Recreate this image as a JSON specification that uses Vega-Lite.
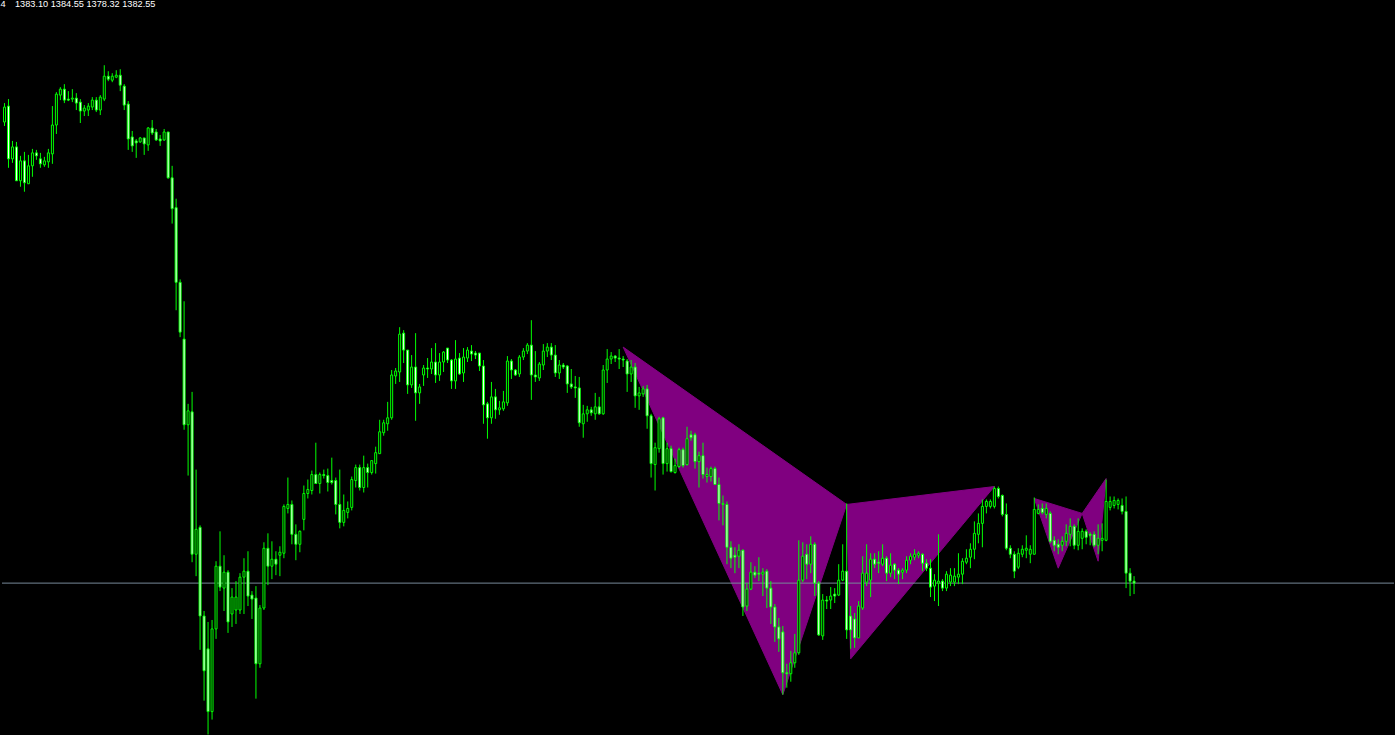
{
"$schema":"https://vega.github.io/schema/vega-lite/v6.json",
"width":1395,"height":735,"padding":0,
"autosize":{"type":"fit","contains":"padding"},
"background":"black",
"config":{"view":{"stroke":null},"scale":{"continuousPadding":0}},
"datasets":{
"candles":[
{"t":1,"o":1846,"h":1865,"l":1842,"c":1861},{"t":2,"o":1862,"h":1869,"l":1800,"c":1809},{"t":3,"o":1809,"h":1827,"l":1805,"c":1821},{"t":4,"o":1821,"h":1826,"l":1787,"c":1787},{"t":5,"o":1787,"h":1812,"l":1781,"c":1807},{"t":6,"o":1807,"h":1816,"l":1776,"c":1785},{"t":7,"o":1784,"h":1813,"l":1784,"c":1802},{"t":8,"o":1802,"h":1819,"l":1791,"c":1815},{"t":9,"o":1815,"h":1818,"l":1808,"c":1812},{"t":10,"o":1809,"h":1815,"l":1800,"c":1804},
{"t":11,"o":1803,"h":1811,"l":1801,"c":1807},{"t":12,"o":1806,"h":1819,"l":1800,"c":1815},{"t":13,"o":1814,"h":1862,"l":1804,"c":1843},{"t":14,"o":1843,"h":1876,"l":1834,"c":1874},{"t":15,"o":1873,"h":1881,"l":1868,"c":1879},{"t":16,"o":1879,"h":1884,"l":1865,"c":1868},{"t":17,"o":1869,"h":1877,"l":1867,"c":1868},{"t":18,"o":1869,"h":1879,"l":1866,"c":1870},{"t":19,"o":1870,"h":1875,"l":1858,"c":1865},{"t":20,"o":1866,"h":1869,"l":1845,"c":1857},
{"t":21,"o":1857,"h":1863,"l":1852,"c":1860},{"t":22,"o":1858,"h":1865,"l":1852,"c":1862},{"t":23,"o":1861,"h":1871,"l":1858,"c":1868},{"t":24,"o":1868,"h":1871,"l":1856,"c":1858},{"t":25,"o":1858,"h":1873,"l":1853,"c":1871},{"t":26,"o":1869,"h":1903,"l":1867,"c":1892},{"t":27,"o":1892,"h":1897,"l":1887,"c":1889},{"t":28,"o":1888,"h":1895,"l":1886,"c":1892},{"t":29,"o":1891,"h":1898,"l":1890,"c":1893},{"t":30,"o":1893,"h":1899,"l":1877,"c":1883},
{"t":31,"o":1882,"h":1884,"l":1858,"c":1863},{"t":32,"o":1864,"h":1867,"l":1818,"c":1829},{"t":33,"o":1831,"h":1837,"l":1816,"c":1822},{"t":34,"o":1827,"h":1829,"l":1810,"c":1825},{"t":35,"o":1826,"h":1831,"l":1825,"c":1830},{"t":36,"o":1830,"h":1830,"l":1813,"c":1824},{"t":37,"o":1823,"h":1841,"l":1817,"c":1840},{"t":38,"o":1840,"h":1848,"l":1833,"c":1835},{"t":39,"o":1836,"h":1839,"l":1827,"c":1828},{"t":40,"o":1829,"h":1833,"l":1822,"c":1827},
{"t":41,"o":1828,"h":1839,"l":1827,"c":1836},{"t":42,"o":1836,"h":1836,"l":1789,"c":1790},{"t":43,"o":1790,"h":1802,"l":1744,"c":1759},{"t":44,"o":1760,"h":1769,"l":1657,"c":1685},{"t":45,"o":1685,"h":1688,"l":1630,"c":1635},{"t":46,"o":1628,"h":1666,"l":1537,"c":1542},{"t":47,"o":1542,"h":1563,"l":1491,"c":1556},{"t":48,"o":1555,"h":1575,"l":1404,"c":1412},{"t":49,"o":1412,"h":1497,"l":1390,"c":1437},{"t":50,"o":1439,"h":1441,"l":1316,"c":1350},
{"t":51,"o":1350,"h":1355,"l":1265,"c":1295},{"t":52,"o":1317,"h":1344,"l":1231,"c":1254},{"t":53,"o":1254,"h":1346,"l":1246,"c":1337},{"t":54,"o":1337,"h":1405,"l":1327,"c":1400},{"t":55,"o":1400,"h":1435,"l":1375,"c":1379},{"t":56,"o":1378,"h":1411,"l":1355,"c":1394},{"t":57,"o":1394,"h":1396,"l":1333,"c":1344},{"t":58,"o":1352,"h":1378,"l":1339,"c":1369},{"t":59,"o":1356,"h":1385,"l":1342,"c":1369},{"t":60,"o":1356,"h":1393,"l":1352,"c":1389},
{"t":61,"o":1389,"h":1408,"l":1352,"c":1395},{"t":62,"o":1395,"h":1415,"l":1360,"c":1370},{"t":63,"o":1371,"h":1375,"l":1347,"c":1367},{"t":64,"o":1368,"h":1380,"l":1267,"c":1302},{"t":65,"o":1302,"h":1361,"l":1298,"c":1358},{"t":66,"o":1358,"h":1424,"l":1356,"c":1418},{"t":67,"o":1418,"h":1433,"l":1381,"c":1400},{"t":68,"o":1400,"h":1425,"l":1387,"c":1407},{"t":69,"o":1407,"h":1415,"l":1391,"c":1402},{"t":70,"o":1411,"h":1420,"l":1390,"c":1414},
{"t":71,"o":1413,"h":1462,"l":1408,"c":1460},{"t":72,"o":1458,"h":1489,"l":1453,"c":1462},{"t":73,"o":1462,"h":1466,"l":1422,"c":1432},{"t":74,"o":1432,"h":1442,"l":1406,"c":1422},{"t":75,"o":1422,"h":1436,"l":1414,"c":1435},{"t":76,"o":1447,"h":1481,"l":1436,"c":1473},{"t":77,"o":1473,"h":1487,"l":1468,"c":1477},{"t":78,"o":1476,"h":1496,"l":1472,"c":1492},{"t":79,"o":1492,"h":1524,"l":1483,"c":1483},{"t":80,"o":1483,"h":1494,"l":1473,"c":1492},
{"t":81,"o":1492,"h":1497,"l":1488,"c":1491},{"t":82,"o":1491,"h":1498,"l":1475,"c":1484},{"t":83,"o":1486,"h":1509,"l":1482,"c":1484},{"t":84,"o":1486,"h":1489,"l":1452,"c":1462},{"t":85,"o":1462,"h":1497,"l":1438,"c":1444},{"t":86,"o":1444,"h":1472,"l":1440,"c":1456},{"t":87,"o":1454,"h":1465,"l":1448,"c":1458},{"t":88,"o":1459,"h":1490,"l":1456,"c":1487},{"t":89,"o":1486,"h":1502,"l":1479,"c":1499},{"t":90,"o":1499,"h":1502,"l":1476,"c":1479},
{"t":91,"o":1479,"h":1511,"l":1474,"c":1499},{"t":92,"o":1499,"h":1503,"l":1479,"c":1494},{"t":93,"o":1494,"h":1506,"l":1492,"c":1506},{"t":94,"o":1503,"h":1520,"l":1493,"c":1514},{"t":95,"o":1513,"h":1547,"l":1513,"c":1535},{"t":96,"o":1534,"h":1547,"l":1531,"c":1544},{"t":97,"o":1543,"h":1565,"l":1536,"c":1549},{"t":98,"o":1549,"h":1597,"l":1547,"c":1592},{"t":99,"o":1591,"h":1599,"l":1583,"c":1596},{"t":100,"o":1595,"h":1640,"l":1585,"c":1633},
{"t":101,"o":1634,"h":1637,"l":1604,"c":1617},{"t":102,"o":1617,"h":1617,"l":1573,"c":1582},{"t":103,"o":1582,"h":1612,"l":1579,"c":1600},{"t":104,"o":1600,"h":1634,"l":1546,"c":1574},{"t":105,"o":1574,"h":1583,"l":1563,"c":1580},{"t":106,"o":1592,"h":1602,"l":1581,"c":1599},{"t":107,"o":1599,"h":1609,"l":1589,"c":1598},{"t":108,"o":1598,"h":1619,"l":1593,"c":1605},{"t":109,"o":1605,"h":1624,"l":1584,"c":1592},{"t":110,"o":1592,"h":1614,"l":1586,"c":1605},
{"t":111,"o":1605,"h":1616,"l":1595,"c":1615},{"t":112,"o":1619,"h":1619,"l":1604,"c":1607},{"t":113,"o":1607,"h":1608,"l":1578,"c":1586},{"t":114,"o":1586,"h":1627,"l":1578,"c":1608},{"t":115,"o":1609,"h":1614,"l":1592,"c":1593},{"t":116,"o":1594,"h":1619,"l":1585,"c":1610},{"t":117,"o":1609,"h":1620,"l":1605,"c":1617},{"t":118,"o":1616,"h":1622,"l":1606,"c":1613},{"t":119,"o":1614,"h":1616,"l":1608,"c":1612},{"t":120,"o":1614,"h":1614,"l":1596,"c":1601},
{"t":121,"o":1601,"h":1607,"l":1543,"c":1562},{"t":122,"o":1563,"h":1565,"l":1528,"c":1549},{"t":123,"o":1549,"h":1585,"l":1543,"c":1570},{"t":124,"o":1570,"h":1578,"l":1548,"c":1557},{"t":125,"o":1557,"h":1566,"l":1552,"c":1559},{"t":126,"o":1558,"h":1576,"l":1556,"c":1565},{"t":127,"o":1564,"h":1611,"l":1561,"c":1606},{"t":128,"o":1606,"h":1608,"l":1588,"c":1597},{"t":129,"o":1597,"h":1598,"l":1591,"c":1592},{"t":130,"o":1593,"h":1612,"l":1590,"c":1610},
{"t":131,"o":1610,"h":1619,"l":1607,"c":1616},{"t":132,"o":1616,"h":1624,"l":1613,"c":1622},{"t":133,"o":1622,"h":1647,"l":1567,"c":1592},{"t":134,"o":1592,"h":1616,"l":1585,"c":1590},{"t":135,"o":1589,"h":1605,"l":1586,"c":1603},{"t":136,"o":1602,"h":1623,"l":1597,"c":1616},{"t":137,"o":1616,"h":1624,"l":1610,"c":1620},{"t":138,"o":1620,"h":1624,"l":1607,"c":1612},{"t":139,"o":1612,"h":1622,"l":1590,"c":1594},{"t":140,"o":1594,"h":1607,"l":1588,"c":1602},
{"t":141,"o":1602,"h":1604,"l":1598,"c":1600},{"t":142,"o":1601,"h":1602,"l":1574,"c":1583},{"t":143,"o":1583,"h":1598,"l":1578,"c":1580},{"t":144,"o":1580,"h":1591,"l":1569,"c":1579},{"t":145,"o":1579,"h":1590,"l":1540,"c":1544},{"t":146,"o":1543,"h":1562,"l":1529,"c":1553},{"t":147,"o":1553,"h":1561,"l":1545,"c":1557},{"t":148,"o":1557,"h":1560,"l":1551,"c":1554},{"t":149,"o":1553,"h":1574,"l":1547,"c":1560},{"t":150,"o":1560,"h":1570,"l":1552,"c":1553},
{"t":151,"o":1553,"h":1602,"l":1552,"c":1597},{"t":152,"o":1597,"h":1618,"l":1584,"c":1608},{"t":153,"o":1608,"h":1615,"l":1603,"c":1611},{"t":154,"o":1611,"h":1612,"l":1605,"c":1609},{"t":155,"o":1609,"h":1618,"l":1598,"c":1608},{"t":156,"o":1608,"h":1611,"l":1600,"c":1607},{"t":157,"o":1606,"h":1608,"l":1575,"c":1593},{"t":158,"o":1593,"h":1607,"l":1585,"c":1600},{"t":159,"o":1600,"h":1604,"l":1559,"c":1571},{"t":160,"o":1571,"h":1580,"l":1557,"c":1574},
{"t":161,"o":1573,"h":1581,"l":1570,"c":1578},{"t":162,"o":1578,"h":1582,"l":1538,"c":1551},{"t":163,"o":1551,"h":1553,"l":1489,"c":1503},{"t":164,"o":1502,"h":1524,"l":1476,"c":1519},{"t":165,"o":1518,"h":1550,"l":1514,"c":1548},{"t":166,"o":1549,"h":1550,"l":1492,"c":1503},{"t":167,"o":1503,"h":1524,"l":1495,"c":1518},{"t":168,"o":1518,"h":1521,"l":1494,"c":1495},{"t":169,"o":1494,"h":1508,"l":1493,"c":1501},{"t":170,"o":1500,"h":1519,"l":1499,"c":1517},
{"t":171,"o":1517,"h":1519,"l":1499,"c":1501},{"t":172,"o":1502,"h":1540,"l":1501,"c":1528},{"t":173,"o":1532,"h":1536,"l":1526,"c":1529},{"t":174,"o":1532,"h":1534,"l":1498,"c":1505},{"t":175,"o":1505,"h":1515,"l":1479,"c":1511},{"t":176,"o":1511,"h":1524,"l":1488,"c":1492},{"t":177,"o":1490,"h":1499,"l":1484,"c":1492},{"t":178,"o":1490,"h":1500,"l":1485,"c":1498},{"t":179,"o":1498,"h":1500,"l":1482,"c":1482},{"t":180,"o":1482,"h":1489,"l":1446,"c":1463},
{"t":181,"o":1462,"h":1471,"l":1441,"c":1463},{"t":182,"o":1462,"h":1465,"l":1402,"c":1419},{"t":183,"o":1419,"h":1425,"l":1398,"c":1408},{"t":184,"o":1411,"h":1419,"l":1393,"c":1409},{"t":185,"o":1410,"h":1422,"l":1398,"c":1416},{"t":186,"o":1416,"h":1417,"l":1350,"c":1359},{"t":187,"o":1360,"h":1383,"l":1355,"c":1377},{"t":188,"o":1377,"h":1404,"l":1376,"c":1394},{"t":189,"o":1394,"h":1400,"l":1388,"c":1391},{"t":190,"o":1393,"h":1409,"l":1385,"c":1392},
{"t":191,"o":1392,"h":1398,"l":1370,"c":1394},{"t":192,"o":1395,"h":1397,"l":1358,"c":1378},{"t":193,"o":1378,"h":1385,"l":1342,"c":1359},{"t":194,"o":1359,"h":1362,"l":1324,"c":1339},{"t":195,"o":1339,"h":1348,"l":1314,"c":1327},{"t":196,"o":1334,"h":1340,"l":1271,"c":1293},{"t":197,"o":1293,"h":1302,"l":1278,"c":1292},{"t":198,"o":1292,"h":1315,"l":1284,"c":1303},{"t":199,"o":1303,"h":1332,"l":1298,"c":1313},{"t":200,"o":1313,"h":1426,"l":1311,"c":1386},
{"t":201,"o":1386,"h":1424,"l":1384,"c":1410},{"t":202,"o":1412,"h":1422,"l":1387,"c":1402},{"t":203,"o":1402,"h":1430,"l":1393,"c":1422},{"t":204,"o":1422,"h":1424,"l":1370,"c":1383},{"t":205,"o":1383,"h":1385,"l":1330,"c":1331},{"t":206,"o":1330,"h":1372,"l":1326,"c":1366},{"t":207,"o":1366,"h":1370,"l":1357,"c":1365},{"t":208,"o":1366,"h":1379,"l":1357,"c":1370},{"t":209,"o":1372,"h":1378,"l":1363,"c":1370},{"t":210,"o":1371,"h":1402,"l":1370,"c":1386},
{"t":211,"o":1386,"h":1422,"l":1385,"c":1395},{"t":212,"o":1395,"h":1463,"l":1327,"c":1336},{"t":213,"o":1350,"h":1360,"l":1317,"c":1336},{"t":214,"o":1347,"h":1353,"l":1318,"c":1328},{"t":215,"o":1328,"h":1365,"l":1328,"c":1360},{"t":216,"o":1358,"h":1410,"l":1356,"c":1393},{"t":217,"o":1384,"h":1422,"l":1380,"c":1393},{"t":218,"o":1386,"h":1413,"l":1369,"c":1407},{"t":219,"o":1407,"h":1413,"l":1398,"c":1402},{"t":220,"o":1404,"h":1415,"l":1393,"c":1403},
{"t":221,"o":1402,"h":1422,"l":1400,"c":1408},{"t":222,"o":1408,"h":1410,"l":1385,"c":1393},{"t":223,"o":1393,"h":1413,"l":1389,"c":1401},{"t":224,"o":1402,"h":1403,"l":1387,"c":1396},{"t":225,"o":1396,"h":1398,"l":1382,"c":1392},{"t":226,"o":1394,"h":1398,"l":1387,"c":1396},{"t":227,"o":1396,"h":1410,"l":1393,"c":1406},{"t":228,"o":1406,"h":1413,"l":1402,"c":1410},{"t":229,"o":1409,"h":1417,"l":1406,"c":1412},{"t":230,"o":1411,"h":1415,"l":1408,"c":1413},
{"t":231,"o":1412,"h":1413,"l":1395,"c":1403},{"t":232,"o":1403,"h":1407,"l":1395,"c":1398},{"t":233,"o":1398,"h":1407,"l":1369,"c":1379},{"t":234,"o":1380,"h":1392,"l":1365,"c":1386},{"t":235,"o":1383,"h":1432,"l":1360,"c":1385},{"t":236,"o":1385,"h":1387,"l":1375,"c":1378},{"t":237,"o":1378,"h":1395,"l":1375,"c":1392},{"t":238,"o":1384,"h":1398,"l":1380,"c":1391},{"t":239,"o":1384,"h":1398,"l":1380,"c":1390},{"t":240,"o":1389,"h":1413,"l":1382,"c":1392},
{"t":241,"o":1392,"h":1408,"l":1382,"c":1405},{"t":242,"o":1404,"h":1417,"l":1402,"c":1408},{"t":243,"o":1409,"h":1423,"l":1398,"c":1417},{"t":244,"o":1417,"h":1445,"l":1407,"c":1433},{"t":245,"o":1432,"h":1453,"l":1423,"c":1443},{"t":246,"o":1443,"h":1467,"l":1419,"c":1460},{"t":247,"o":1460,"h":1467,"l":1453,"c":1465},{"t":248,"o":1460,"h":1467,"l":1458,"c":1465},{"t":249,"o":1460,"h":1480,"l":1458,"c":1478},{"t":250,"o":1478,"h":1480,"l":1468,"c":1470},
{"t":251,"o":1471,"h":1472,"l":1450,"c":1452},{"t":252,"o":1452,"h":1463,"l":1416,"c":1418},{"t":253,"o":1418,"h":1421,"l":1408,"c":1412},{"t":254,"o":1412,"h":1415,"l":1388,"c":1395},{"t":255,"o":1399,"h":1418,"l":1397,"c":1413},{"t":256,"o":1412,"h":1421,"l":1409,"c":1417},{"t":257,"o":1416,"h":1431,"l":1408,"c":1418},{"t":258,"o":1412,"h":1421,"l":1403,"c":1417},{"t":259,"o":1412,"h":1469,"l":1412,"c":1457},{"t":260,"o":1453,"h":1462,"l":1452,"c":1457},
{"t":261,"o":1458,"h":1463,"l":1452,"c":1454},{"t":262,"o":1452,"h":1463,"l":1448,"c":1458},{"t":263,"o":1453,"h":1455,"l":1423,"c":1425},{"t":264,"o":1426,"h":1430,"l":1415,"c":1421},{"t":265,"o":1422,"h":1427,"l":1412,"c":1419},{"t":266,"o":1421,"h":1430,"l":1415,"c":1425},{"t":267,"o":1425,"h":1442,"l":1420,"c":1433},{"t":268,"o":1432,"h":1448,"l":1420,"c":1440},{"t":269,"o":1440,"h":1442,"l":1417,"c":1421},{"t":270,"o":1421,"h":1448,"l":1416,"c":1435},
{"t":271,"o":1428,"h":1438,"l":1417,"c":1435},{"t":272,"o":1435,"h":1437,"l":1422,"c":1429},{"t":273,"o":1432,"h":1434,"l":1421,"c":1431},{"t":274,"o":1432,"h":1435,"l":1419,"c":1421},{"t":275,"o":1421,"h":1442,"l":1412,"c":1428},{"t":276,"o":1426,"h":1443,"l":1415,"c":1428},{"t":277,"o":1426,"h":1487,"l":1425,"c":1465},{"t":278,"o":1459,"h":1470,"l":1456,"c":1465},{"t":279,"o":1461,"h":1470,"l":1458,"c":1466},{"t":280,"o":1462,"h":1468,"l":1457,"c":1466},
{"t":281,"o":1461,"h":1468,"l":1452,"c":1455},{"t":282,"o":1455,"h":1470,"l":1378,"c":1393},{"t":283,"o":1393,"h":1398,"l":1370,"c":1385},{"t":284,"o":1385,"h":1390,"l":1372,"c":1383}
],
"patterns":[
{"g":"XAB1","i":1,"t":156,"p":1620},{"g":"XAB1","i":2,"t":196,"p":1271},{"g":"XAB1","i":3,"t":212,"p":1462},
{"g":"BCD1","i":1,"t":212,"p":1462},{"g":"BCD1","i":2,"t":213,"p":1307},{"g":"BCD1","i":3,"t":249,"p":1480},
{"g":"XAB2","i":1,"t":259,"p":1468},{"g":"XAB2","i":2,"t":265,"p":1398},{"g":"XAB2","i":3,"t":271,"p":1453},
{"g":"BCD2","i":1,"t":271,"p":1453},{"g":"BCD2","i":2,"t":277,"p":1488},{"g":"BCD2","i":3,"t":275,"p":1405}
]
},
"layer":[
{"data":{"name":"patterns"},
 "mark":{"type":"line","interpolate":"linear-closed","fill":"#800080","stroke":"#800080","strokeWidth":1,"clip":true},
 "encoding":{
  "x":{"field":"t","type":"quantitative","scale":{"domain":[0.375,349.125],"nice":false,"zero":false,"padding":0},"axis":null},
  "y":{"field":"p","type":"quantitative","scale":{"domain":[1230.5,1965.5],"nice":false,"zero":false,"padding":0},"axis":null},
  "detail":{"field":"g","type":"nominal"},
  "order":{"field":"i","type":"quantitative"}
 }},
{"data":{"values":[{"bid":1383}]},
 "mark":{"type":"rule","color":"#778899","strokeWidth":1},
 "encoding":{"y":{"field":"bid","type":"quantitative","axis":null}}},
{"data":{"name":"candles"},
 "mark":{"type":"rule","color":"#00ff00","strokeWidth":1,"clip":true},
 "encoding":{
  "x":{"field":"t","type":"quantitative","axis":null},
  "y":{"field":"l","type":"quantitative","axis":null},
  "y2":{"field":"h"}
 }},
{"data":{"name":"candles"},
 "mark":{"type":"bar","width":2,"stroke":"#00ff00","strokeWidth":1,"clip":true},
 "encoding":{
  "x":{"field":"t","type":"quantitative","axis":null},
  "y":{"field":"o","type":"quantitative","axis":null},
  "y2":{"field":"c"},
  "fill":{"condition":{"test":"datum.o > datum.c","value":"#ffffff"},"value":"#000000"}
 }},
{"data":{"values":[{"label":"4","t":0,"p":1961.5},{"label":"1383.10 1384.55 1378.32 1382.55","t":3.625,"p":1961.5}]},
 "mark":{"type":"text","align":"left","baseline":"alphabetic","font":"Liberation Sans","fontSize":9.2,"color":"#ffffff"},
 "encoding":{
  "x":{"field":"t","type":"quantitative","axis":null},
  "y":{"field":"p","type":"quantitative","axis":null},
  "text":{"field":"label"}
 }}
]
}
